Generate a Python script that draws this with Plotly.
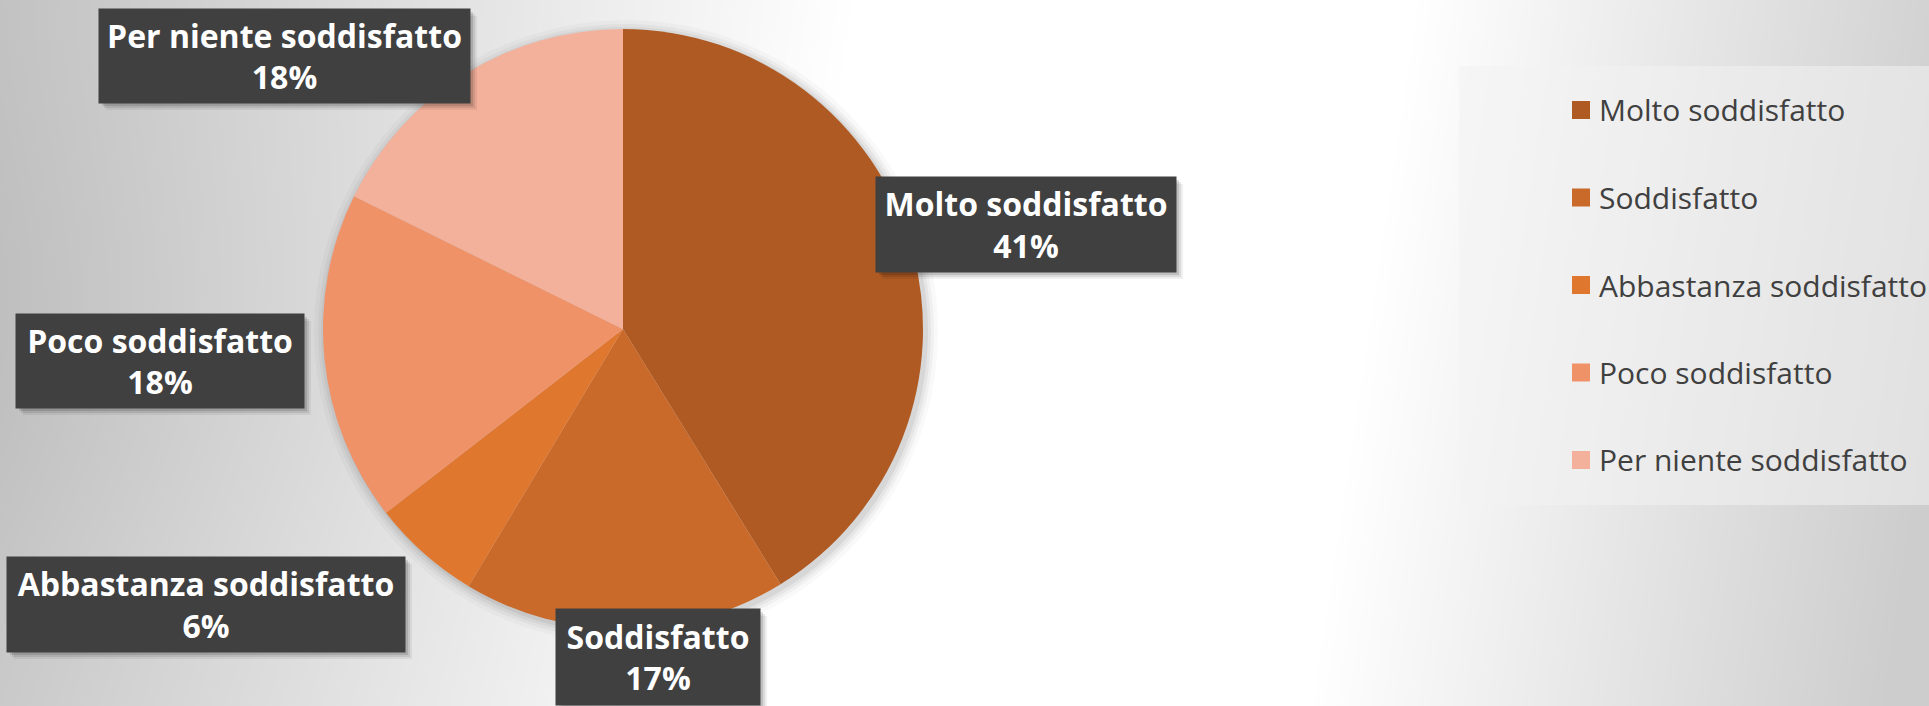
import base64
import struct
import zlib

import numpy as np
import plotly.graph_objects as go

# ---------------- data ----------------
categories = ["Molto soddisfatto", "Soddisfatto", "Abbastanza soddisfatto",
              "Poco soddisfatto", "Per niente soddisfatto"]
values = [41.2, 17.4, 5.9, 17.8, 17.7]   # percent
colors = ["#AF5A22", "#C9692A", "#E0772F", "#F09268", "#F3B19B"]

# ---------------- layout constants (pixels) ----------------
W, H = 1929, 706
PIE_CX, PIE_CY, PIE_R = 623, 329, 300
# data-label boxes: centre (px) and size (px), one per category
label_pos = [(1026, 224.5), (658, 657), (206, 604.5), (160, 361), (284.5, 56)]
label_size = [(300, 95), (204, 96), (398, 95), (288, 94), (371, 94)]
# legend geometry
LEG_BOX = (1459, 66, 1929, 505)
LEG_X_MARK = 1572
LEG_MARK = 18
LEG_Y0, LEG_DY = 110, 87.5

FONT = "Open Sans"


def px(x):
    return x / W


def py(y):
    return 1 - y / H


# ---------------- background gradient image ----------------
s = 2
w, h = W // s + 1, H // s + 1
X, Y = np.meshgrid(np.arange(w) * s, np.arange(h) * s)
t = X + 0.15 * Y
v = np.interp(t, [0, 850, 1420, 2000], [196, 255, 255, 205])
v = v - 8 * np.exp(-((Y - 353) / 260.0) ** 2) * np.clip(1 - X / 700.0, 0, 1)
img = np.clip(v, 0, 255).astype(np.uint8)
raw = b"".join(b"\x00" + row.tobytes() for row in img)


def _chunk(tag, data):
    return (struct.pack(">I", len(data)) + tag + data
            + struct.pack(">I", zlib.crc32(tag + data) & 0xFFFFFFFF))


png = (b"\x89PNG\r\n\x1a\n"
       + _chunk(b"IHDR", struct.pack(">IIBBBBB", w, h, 8, 0, 0, 0, 0))
       + _chunk(b"IDAT", zlib.compress(raw, 9))
       + _chunk(b"IEND", b""))
bg_uri = "data:image/png;base64," + base64.b64encode(png).decode()

# ---------------- figure ----------------
fig = go.Figure()
fig.add_trace(go.Pie(
    labels=categories,
    values=values,
    sort=False,
    direction="clockwise",
    rotation=0,
    marker=dict(colors=colors, line=dict(width=0)),
    textinfo="none",
    hoverinfo="label+percent",
    showlegend=False,
    domain=dict(x=[px(PIE_CX - PIE_R), px(PIE_CX + PIE_R)],
                y=[py(PIE_CY + PIE_R), py(PIE_CY - PIE_R)]),
))

shapes = []
# soft shadow around the pie
for k, op in [(12, 0.025), (8, 0.035), (5, 0.045), (2, 0.06)]:
    shapes.append(dict(
        type="circle", xref="paper", yref="paper", layer="below",
        x0=px(PIE_CX - PIE_R - k + 3), x1=px(PIE_CX + PIE_R + k + 3),
        y0=py(PIE_CY + PIE_R + k + 3), y1=py(PIE_CY - PIE_R - k + 3),
        fillcolor=f"rgba(0,0,0,{op})", line=dict(width=0)))

# legend box
lx0, ly0, lx1, ly1 = LEG_BOX
shapes.append(dict(type="rect", xref="paper", yref="paper", layer="below",
                   x0=px(lx0), x1=px(lx1), y0=py(ly1), y1=py(ly0),
                   fillcolor="rgba(242,242,242,0.55)", line=dict(width=0)))

annotations = []
total = sum(values)
for i, (cat, val, col) in enumerate(zip(categories, values, colors)):
    # legend entry
    yc = LEG_Y0 + i * LEG_DY
    shapes.append(dict(type="rect", xref="paper", yref="paper",
                       x0=px(LEG_X_MARK), x1=px(LEG_X_MARK + LEG_MARK),
                       y0=py(yc + LEG_MARK / 2), y1=py(yc - LEG_MARK / 2),
                       fillcolor=col, line=dict(width=0)))
    annotations.append(dict(
        xref="paper", yref="paper", x=px(LEG_X_MARK + LEG_MARK + 7), y=py(yc),
        xanchor="left", yanchor="middle", showarrow=False, text=cat,
        font=dict(family=FONT, size=30, color="#404040")))

    # data label: soft shadow rects + box
    cx, cy = label_pos[i]
    bw, bh = label_size[i]
    for d, op in [(7, 0.06), (5, 0.09), (3, 0.12)]:
        shapes.append(dict(
            type="rect", xref="paper", yref="paper",
            x0=px(cx - bw / 2 + d), x1=px(cx + bw / 2 + d),
            y0=py(cy + bh / 2 + d), y1=py(cy - bh / 2 + d),
            fillcolor=f"rgba(0,0,0,{op})", line=dict(width=0)))
    pct = f"{val / total * 100:.0f}%"
    annotations.append(dict(
        xref="paper", yref="paper", x=px(cx), y=py(cy),
        xanchor="center", yanchor="middle", showarrow=False,
        text=f"<b>{cat}</b><br><b>{pct}</b>",
        width=bw, height=bh, align="center", valign="middle",
        font=dict(family=FONT, size=32, color="#FFFFFF"),
        bgcolor="#404040", borderpad=0))

fig.update_layout(
    width=W, height=H,
    margin=dict(l=0, r=0, t=0, b=0),
    paper_bgcolor="#FFFFFF",
    plot_bgcolor="rgba(0,0,0,0)",
    showlegend=False,
    images=[dict(source=bg_uri, xref="paper", yref="paper", x=0, y=1,
                 sizex=1, sizey=1, xanchor="left", yanchor="top",
                 sizing="stretch", layer="below")],
    shapes=shapes,
    annotations=annotations,
)

fig.write_html("out.html",
               config={"displayModeBar": False},
               post_script="document.body.style.margin='0';document.body.style.overflow='hidden';")
